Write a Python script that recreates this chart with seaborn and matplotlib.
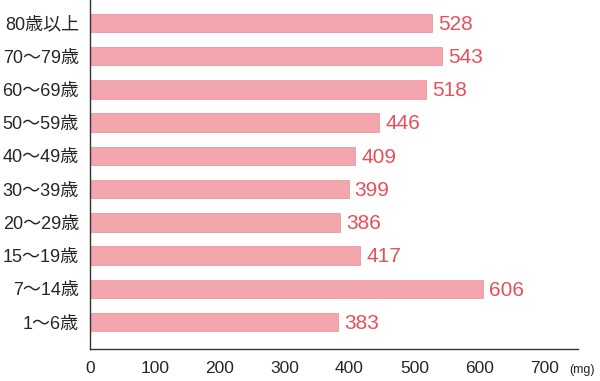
import pandas as pd
import matplotlib.pyplot as plt
import seaborn as sns

# age groups (top to bottom) and values in mg
ages = ['80歳以上', '70〜79歳', '60〜69歳', '50〜59歳', '40〜49歳',
        '30〜39歳', '20〜29歳', '15〜19歳', '7〜14歳', '1〜6歳']
values = [528, 543, 518, 446, 409, 399, 386, 417, 606, 383]
xticks = [0, 100, 200, 300, 400, 500, 600, 700]

df = pd.DataFrame({'age': ages, 'mg': values})

sns.set_style('white')
# Latin digits from Liberation Sans, kanji fall back to Noto Sans CJK JP
plt.rcParams['font.family'] = ['Liberation Sans', 'Noto Sans CJK JP']

bar_color = '#f4a6ae'
text_color = '#e84f5a'

fig = plt.figure(figsize=(6, 3.81), dpi=100)
ax = fig.add_axes([0.15, 0.084, 0.813, 0.916])

sns.barplot(data=df, x='mg', y='age', orient='h', color=bar_color,
            width=0.56, saturation=1, edgecolor='#ee98a1', linewidth=0.6, ax=ax)

for i, v in enumerate(values):
    ax.text(v + 9, i + 0.04, str(v), color=text_color, fontsize=15,
            va='center', ha='left')

ax.set_xlim(0, 752)
ax.set_ylim(9.81, -0.69)
ax.set_xticks(xticks)
ax.set_xticklabels([str(t) for t in xticks], fontsize=12.5)
ax.tick_params(axis='x', direction='out', length=7, width=1, color='#333333', pad=2)
ax.tick_params(axis='y', length=0, pad=8, labelsize=13)
ax.set_xlabel('')
ax.set_ylabel('')

for s in ['top', 'right']:
    ax.spines[s].set_visible(False)
for s in ['left', 'bottom']:
    ax.spines[s].set_color('#333333')
    ax.spines[s].set_linewidth(1)

fig.text(0.948, 0.030, '(mg)', fontsize=9, ha='left', va='center', color='#222222')

fig.savefig('out.png', dpi=100)
